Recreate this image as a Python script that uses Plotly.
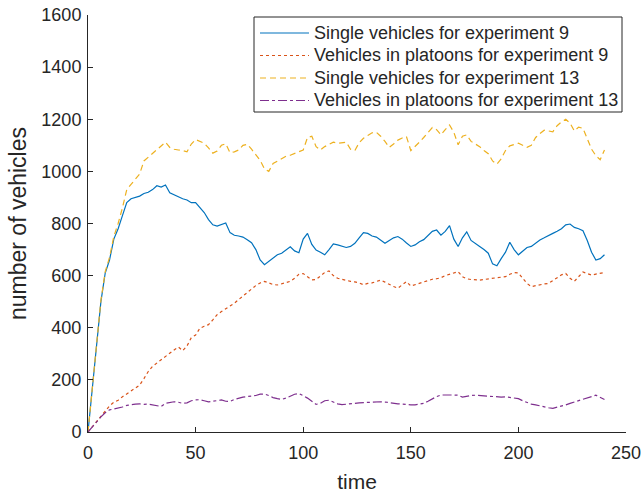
import plotly.graph_objects as go

# Values sampled every 2 time units (t = 0 ... 240)
single_exp9 = [0, 160, 340, 500, 610, 660, 740, 780, 830, 880,
               895, 900, 905, 915, 920, 930, 945, 940, 948, 918,
               910, 903, 895, 890, 880, 880, 862, 842, 815, 795,
               790, 795, 802, 765, 755, 752, 748, 738, 726, 700,
               660, 642, 655, 670, 680, 686, 700, 711, 695, 688,
               740, 762, 720, 698, 690, 680, 700, 722, 718, 712,
               708, 712, 724, 745, 765, 762, 752, 748, 735, 724,
               735, 745, 750, 740, 725, 712, 718, 730, 738, 755,
               770, 775, 755, 770, 792, 740, 712, 745, 768, 735,
               725, 712, 700, 686, 645, 638, 665, 690, 728, 700,
               680, 695, 708, 712, 725, 737, 745, 755, 762, 770,
               780, 795, 798, 785, 780, 772, 735, 690, 660, 665,
               680]

platoon_exp9 = [0, 20, 42, 62, 84, 100, 114, 122, 135, 146,
                158, 168, 180, 205, 232, 252, 265, 276, 290, 302,
                315, 326, 312, 330, 362, 372, 398, 406, 412, 430,
                450, 462, 472, 482, 494, 508, 522, 536, 551, 562,
                572, 578, 572, 566, 564, 568, 572, 578, 590, 605,
                608, 595, 584, 585, 598, 612, 618, 600, 590, 585,
                582, 578, 576, 572, 565, 570, 572, 578, 583, 575,
                565, 558, 552, 565, 577, 560, 565, 572, 577, 582,
                586, 588, 592, 600, 605, 610, 615, 596, 588, 585,
                584, 583, 585, 588, 590, 592, 594, 596, 605, 612,
                610, 590, 570, 558, 562, 565, 568, 570, 580, 592,
                603, 608, 590, 578, 595, 614, 608, 602, 606, 610,
                612]

single_exp13 = [0, 160, 345, 505, 615, 670, 750, 800, 860, 930,
                950, 970, 990, 1040, 1055, 1068, 1085, 1100, 1112, 1092,
                1085, 1082, 1080, 1075, 1105, 1122, 1115, 1108, 1090, 1070,
                1078, 1100, 1106, 1072, 1075, 1082, 1100, 1104, 1085, 1065,
                1042, 1010, 1000, 1030, 1040, 1050, 1058, 1062, 1068, 1075,
                1082, 1130, 1135, 1095, 1082, 1095, 1102, 1112, 1108, 1110,
                1112, 1085, 1080, 1110, 1127, 1138, 1148, 1150, 1135, 1115,
                1092, 1105, 1120, 1128, 1133, 1080, 1095, 1112, 1130, 1150,
                1168, 1160, 1140, 1160, 1178, 1150, 1102, 1135, 1140, 1115,
                1105, 1095, 1080, 1068, 1040, 1028, 1048, 1080, 1098, 1102,
                1108, 1100, 1092, 1100, 1130, 1145, 1158, 1155, 1152, 1175,
                1190, 1200, 1185, 1155, 1170, 1165, 1122, 1085, 1060, 1045,
                1082]

platoon_exp13 = [0, 20, 40, 58, 74, 85, 88, 91, 96, 102,
                 105, 107, 108, 106, 107, 104, 100, 98, 110, 112,
                 116, 114, 110, 112, 120, 123, 124, 120, 116, 118,
                 121, 123, 118, 117, 125, 130, 134, 136, 138, 140,
                 145, 146, 140, 132, 128, 125, 130, 138, 145, 148,
                 140, 130, 118, 106, 110, 120, 122, 115, 108, 105,
                 106, 108, 110, 112, 113, 114, 115, 116, 116, 115,
                 112, 110, 108, 107, 105, 104, 104, 106, 110, 118,
                 128, 136, 142, 143, 142, 142, 141, 134, 138, 140,
                 141, 140, 138, 136, 135, 135, 134, 135, 132, 130,
                 128, 120, 112, 107, 104, 100, 96, 93, 91, 95,
                 100, 104, 110, 115, 119, 123, 130, 136, 141, 132,
                 125]

series_names = ["Single vehicles for experiment 9",
                "Vehicles in platoons for experiment 9",
                "Single vehicles for experiment 13",
                "Vehicles in platoons for experiment 13"]
x_ticks = [0, 50, 100, 150, 200, 250]
y_ticks = [0, 200, 400, 600, 800, 1000, 1200, 1400, 1600]

series = [single_exp9, platoon_exp9, single_exp13, platoon_exp13]
colors = ["#0072BD", "#D95319", "#EDB120", "#7E2F8E"]
dashes = ["solid", "dot", "6px,4px", "dashdot"]

W, H = 643, 496
ML, MR, MT, MB = 88, 17, 15, 64
PW, PH = W - ML - MR, H - MT - MB


def px(xp):
    return (xp - ML) / PW


def py(yp):
    return (H - MB - yp) / PH


fig = go.Figure()
for name, vals, col, dash in zip(series_names, series, colors, dashes):
    t = [2 * i for i in range(len(vals))]
    fig.add_trace(go.Scatter(x=t, y=vals, mode="lines", name=name,
                             line=dict(color=col, width=1.2, dash=dash),
                             showlegend=False))

axis_color = "#262626"

# Legend box drawn by hand (MATLAB style)
shapes = [dict(type="rect", xref="paper", yref="paper",
               x0=px(254), x1=px(622), y0=py(112), y1=py(17),
               line=dict(color=axis_color, width=1), fillcolor="white",
               layer="above")]
annotations = []
row_y = [33, 55.5, 78, 100.5]
for name, col, dash, ry in zip(series_names, colors, dashes, row_y):
    shapes.append(dict(type="line", xref="paper", yref="paper",
                       x0=px(260), x1=px(309), y0=py(ry), y1=py(ry),
                       line=dict(color=col, width=1.2, dash=dash), layer="above"))
    annotations.append(dict(text=name, xref="paper", yref="paper",
                            x=px(312), y=py(ry), xanchor="left", yanchor="middle",
                            showarrow=False,
                            font=dict(size=18, color=axis_color)))

fig.update_layout(
    width=W, height=H,
    margin=dict(l=ML, r=MR, t=MT, b=MB),
    paper_bgcolor="white", plot_bgcolor="white",
    font=dict(family="Liberation Sans, Arial, sans-serif", color=axis_color),
    showlegend=False,
    shapes=shapes,
    annotations=annotations,
    xaxis=dict(range=[0, 250], tickvals=x_ticks, showgrid=False, zeroline=False,
               automargin=False,
               showline=True, linecolor=axis_color, linewidth=1,
               ticks="inside", ticklen=5, tickcolor=axis_color,
               ticklabelstandoff=4,
               tickfont=dict(size=18, color=axis_color),
               title=dict(text="time", font=dict(size=21, color=axis_color), standoff=12)),
    yaxis=dict(range=[0, 1600], tickvals=y_ticks, showgrid=False, zeroline=False,
               automargin=False,
               showline=True, linecolor=axis_color, linewidth=1,
               ticks="inside", ticklen=5, tickcolor=axis_color,
               ticklabelstandoff=2,
               tickfont=dict(size=18, color=axis_color),
               title=dict(text="number of vehicles", font=dict(size=23, color=axis_color), standoff=8)),
)

fig.write_html("out.html")
